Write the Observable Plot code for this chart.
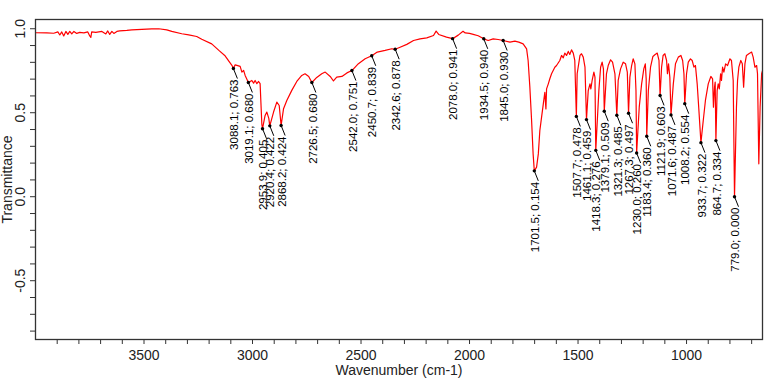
<!DOCTYPE html>
<html><head><meta charset="utf-8">
<script src="https://cdn.jsdelivr.net/npm/d3@7"></script>
<script src="https://cdn.jsdelivr.net/npm/@observablehq/plot@0.6"></script>
<style>
body{margin:0;background:#fff;}
#chart svg{font-family:Arial,"Liberation Sans",sans-serif;}
</style>
</head><body><div id="chart"></div>
<script>
// IR spectrum trace (wavenumber cm-1, transmittance)
const specWavenumber = [4000,3948,3916,3897,3888,3879,3870,3860,3851,3842,3833,3823,3810,3796,3777,3759,3750,3745,3741,3722,3694,3676,3667,3658,3648,3639,3625,3612,3579,3556,3510,3464,3432,3395,3372,3326,3294,3257,3234,3188,3155,3128,3105,3095,3088.1,3080,3072,3057,3049,3041,3034,3019.1,3003,2995,2988,2980,2972,2965,2957,2953.9,2942,2934,2925,2920.4,2903,2888,2877,2868.2,2857,2842,2819,2796,2773,2758,2741,2726.5,2704,2681,2665,2642,2627,2612,2588,2565,2542,2512,2481,2450.7,2425,2389,2358,2342.6,2320,2289,2258,2228,2197,2166,2154,2142,2106,2078,2052,2030,2020,2000,1983,1960,1934.5,1914,1891,1868,1845,1814,1791,1773,1753,1737,1730,1722,1714,1707,1701.5,1691,1683,1676,1668,1660,1653,1648,1645,1637,1630,1622,1607,1599,1584,1576,1568,1561,1553,1545,1538,1530,1522,1515,1507.7,1504,1491,1484,1476,1468,1461.1,1453,1445,1441,1435,1427,1422,1418.3,1404,1396,1389,1383,1379.1,1369,1361,1350,1341,1330,1321.3,1315,1304,1292,1281,1273,1267.3,1261,1253,1246,1238,1233,1230,1218,1207,1197,1190,1186,1183.4,1176,1166,1155,1146,1135,1127,1121.9,1115,1108,1100,1092,1088,1083,1077,1071.6,1061,1051,1038,1026,1018,1012,1008.2,1000,992,982,974,966,959,951,943,933.7,923,913,900,888,880,876,871,868,864.7,859,854,849,843,839,834,828,820,811,800,793,785,779,770,765,759,750,743,737,731,724,713,700,693,685,677,673,667,661,654,650];
const specTransmittance = [0.976,0.975,0.973,0.981,0.963,0.981,0.957,0.984,0.966,0.984,0.969,0.984,0.972,0.978,0.975,0.981,0.957,0.948,0.981,0.978,0.984,0.969,0.987,0.966,0.984,0.972,0.984,0.987,0.990,0.993,0.996,0.999,1.000,0.993,0.984,0.970,0.963,0.954,0.937,0.910,0.871,0.841,0.800,0.782,0.763,0.785,0.782,0.776,0.742,0.752,0.722,0.680,0.692,0.676,0.692,0.673,0.686,0.673,0.430,0.405,0.484,0.504,0.466,0.422,0.504,0.563,0.543,0.424,0.524,0.573,0.633,0.686,0.722,0.732,0.716,0.680,0.710,0.732,0.742,0.716,0.689,0.712,0.716,0.737,0.751,0.792,0.821,0.839,0.861,0.871,0.881,0.878,0.890,0.907,0.930,0.940,0.946,0.960,0.986,0.966,0.950,0.941,0.962,0.985,0.975,0.972,0.966,0.958,0.940,0.930,0.940,0.936,0.930,0.920,0.926,0.920,0.910,0.880,0.811,0.652,0.454,0.255,0.154,0.176,0.255,0.394,0.474,0.553,0.622,0.523,0.642,0.672,0.702,0.732,0.771,0.781,0.811,0.841,0.827,0.855,0.841,0.865,0.847,0.874,0.855,0.811,0.478,0.732,0.841,0.851,0.831,0.771,0.459,0.632,0.672,0.642,0.692,0.742,0.712,0.276,0.632,0.771,0.801,0.761,0.509,0.732,0.781,0.815,0.801,0.732,0.485,0.692,0.761,0.801,0.791,0.742,0.497,0.712,0.781,0.821,0.791,0.632,0.260,0.533,0.672,0.761,0.791,0.700,0.360,0.632,0.771,0.835,0.845,0.855,0.811,0.603,0.771,0.841,0.851,0.811,0.732,0.791,0.712,0.487,0.672,0.791,0.831,0.841,0.811,0.732,0.554,0.732,0.801,0.821,0.811,0.771,0.781,0.672,0.513,0.322,0.454,0.573,0.672,0.716,0.702,0.533,0.652,0.682,0.334,0.632,0.672,0.642,0.732,0.692,0.771,0.742,0.791,0.781,0.821,0.811,0.692,0.000,0.533,0.692,0.771,0.811,0.791,0.652,0.791,0.841,0.851,0.861,0.831,0.771,0.781,0.732,0.196,0.533,0.732,0.751];

// Annotated peaks
const peakWavenumber = [3088.1,3019.1,2953.9,2920.4,2868.2,2726.5,2542.0,2450.7,2342.6,2078.0,1934.5,1845.0,1701.5,1507.7,1461.1,1418.3,1379.1,1321.3,1267.3,1230.0,1183.4,1121.9,1071.6,1008.2,933.7,864.7,779.0];
const peakTransmittance = [0.763,0.680,0.405,0.422,0.424,0.680,0.751,0.839,0.878,0.941,0.940,0.930,0.154,0.478,0.459,0.276,0.509,0.485,0.497,0.260,0.360,0.603,0.487,0.554,0.322,0.334,0.000];

// Axis ticks
const xMinorTicks = [3900,3800,3700,3600,3500,3400,3300,3200,3100,3000,2900,2800,2700,2600,2500,2400,2300,2200,2100,2000,1900,1800,1700,1600,1500,1400,1300,1200,1100,1000,900,800,700];
const xTickLabels = [3500,3000,2500,2000,1500,1000];
const yMinorTicks = [-0.8,-0.7,-0.6,-0.5,-0.4,-0.3,-0.2,-0.1,0.0,0.1,0.2,0.3,0.4,0.5,0.6,0.7,0.8,0.9,1.0];
const yTickLabels = [-0.5,0.0,0.5,1.0];

const W = 782, H = 380, mL = 35, mR = 20, mT = 19, mB = 41;
const xDomain = [4000, 650], yDomain = [-0.85, 1.055];
const kx = (W - mL - mR) / (xDomain[0] - xDomain[1]);
const ky = (H - mT - mB) / (yDomain[1] - yDomain[0]);

const spectrum = specWavenumber.map((w, i) => ({w, t: specTransmittance[i]}));
const peaks = peakWavenumber.map((w, i) => ({w, t: peakTransmittance[i],
  label: w.toFixed(1) + "; " + peakTransmittance[i].toFixed(3)}));

const font = 'Arial,"Liberation Sans",sans-serif';
const plot = Plot.plot({
  width: W, height: H,
  marginLeft: mL, marginRight: mR, marginTop: mT, marginBottom: mB,
  style: {fontFamily: font, background: "#fff"},
  x: {domain: xDomain},
  y: {domain: yDomain},
  marks: [
    Plot.axisX({ticks: xMinorTicks, tickSize: 5, tickFormat: () => "", label: null, stroke: "#333"}),
    Plot.axisX({ticks: xTickLabels, tickSize: 0, tickPadding: 11, tickFormat: d => String(d), label: null, fontSize: 14, fill: "#222"}),
    Plot.axisY({ticks: yMinorTicks, tickSize: 5, tickFormat: () => "", label: null, stroke: "#333"}),
    Plot.text(yTickLabels, {y: d => d, frameAnchor: "left", dx: -15, rotate: -90, text: d => d.toFixed(1), fontSize: 14, fill: "#222", textAnchor: "middle", lineAnchor: "middle"}),
    Plot.text(["Transmittance"], {frameAnchor: "left", dx: -28, rotate: -90, fontSize: 14, fill: "#222", textAnchor: "middle", lineAnchor: "middle"}),
    Plot.text(["Wavenumber (cm-1)"], {frameAnchor: "bottom", dy: 31, fontSize: 14, fill: "#222", lineAnchor: "middle"}),
    Plot.line(spectrum, {x: "w", y: "t", stroke: "#ff0000", strokeWidth: 1.2}),
    Plot.link(peaks, {x1: "w", y1: "t", x2: d => d.w - 4 / kx, y2: d => d.t - 10 / ky, stroke: "#000", strokeWidth: 1}),
    Plot.dot(peaks, {x: "w", y: "t", r: 1.7, fill: "#000"}),
    Plot.text(peaks, {x: "w", y: "t", text: "label", rotate: -90, textAnchor: "end", lineAnchor: "middle", dx: 1, dy: 11, fontSize: 11.5, fill: "#000"}),
    Plot.frame({stroke: "#333", strokeWidth: 1.3})
  ]
});
document.getElementById("chart").appendChild(plot);
</script>
</body></html>
